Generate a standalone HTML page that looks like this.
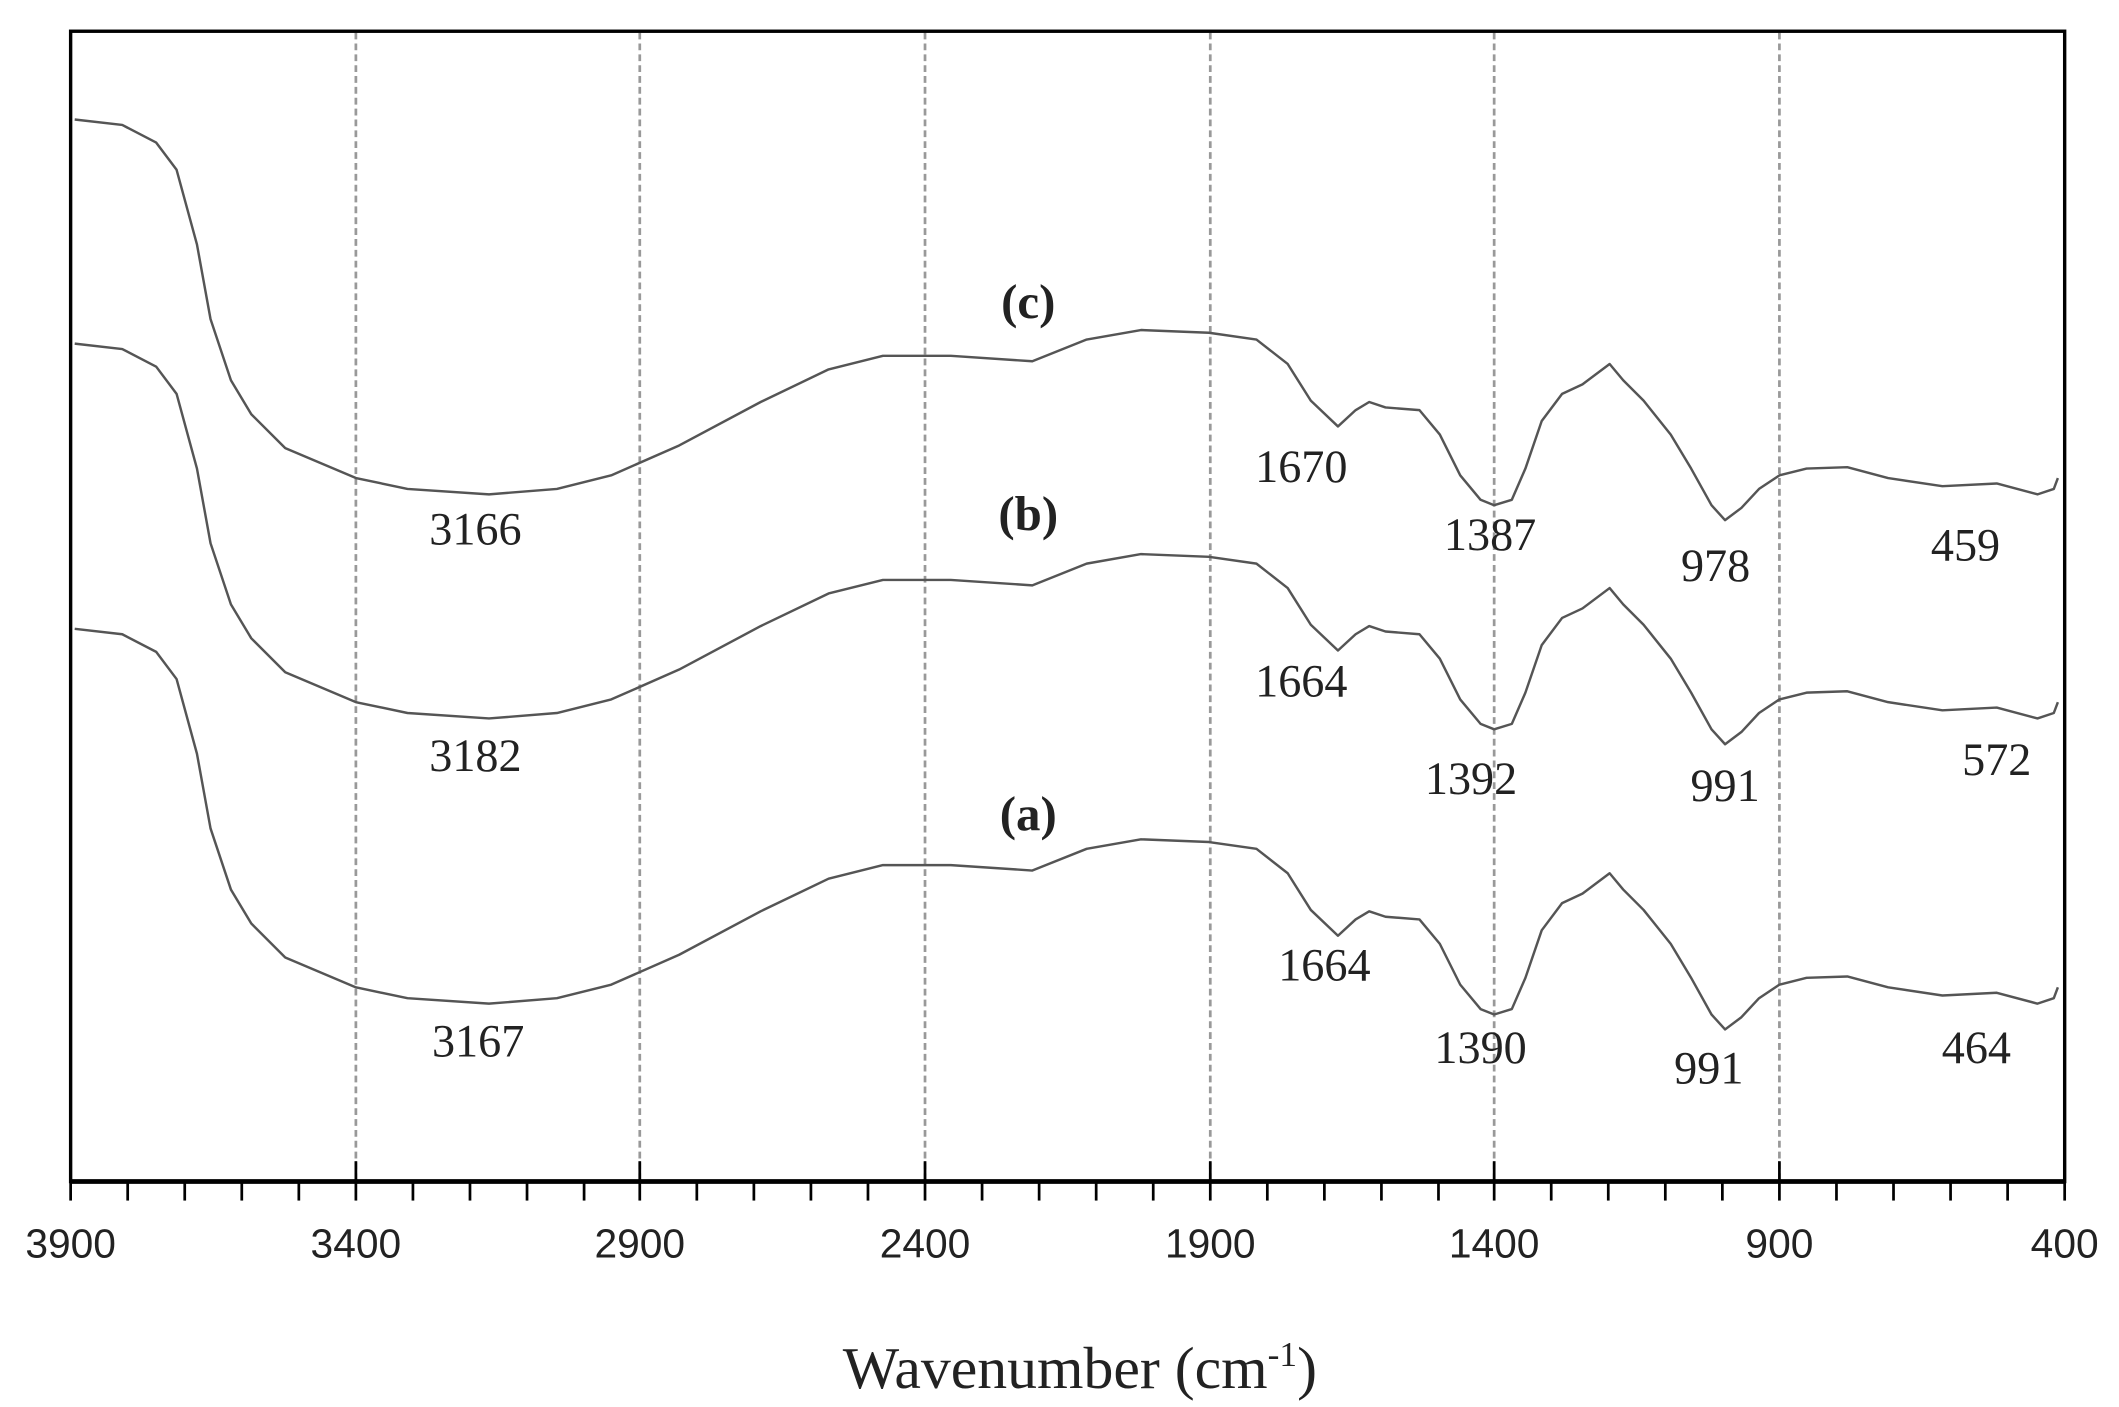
<!DOCTYPE html>
<html><head><style>html,body{margin:0;padding:0;background:#fff}svg{display:block}</style></head>
<body>
<svg xmlns="http://www.w3.org/2000/svg" width="2119" height="1407" viewBox="0 0 1560 1036" preserveAspectRatio="none">
<rect width="1560" height="1036" fill="#fff"/>
<g stroke="#999" stroke-width="2" stroke-dasharray="5,3">
<line x1="262" y1="24" x2="262" y2="870"/>
<line x1="471" y1="24" x2="471" y2="870"/>
<line x1="681" y1="24" x2="681" y2="870"/>
<line x1="891" y1="24" x2="891" y2="870"/>
<line x1="1100" y1="24" x2="1100" y2="870"/>
<line x1="1310" y1="24" x2="1310" y2="870"/>
</g>
<rect x="52" y="23" width="1468" height="847" fill="none" stroke="#000" stroke-width="2.5"/>
<line x1="52" y1="870" x2="1520" y2="870" stroke="#000" stroke-width="3.5"/>
<defs>
<path id="c" d="M55,88 L90,92 L115,105 L130,125 L145,180 L155,235 L170,280 L185,305 L210,330 L262,352 L300,360 L360,364 L410,360 L450,350 L500,328 L560,296 L610,272 L650,262 L700,262 L760,266 L800,250 L840,243 L890,245 L925,250 L948,268 L965,295 L985,314 L998,302 L1008,296 L1020,300 L1045,302 L1060,320 L1075,350 L1090,368 L1100,372 L1113,368 L1123,345 L1135,310 L1150,290 L1165,283 L1185,268 L1195,280 L1210,295 L1230,320 L1245,345 L1260,372 L1270,383 L1282,374 L1295,360 L1310,350 L1330,345 L1360,344 L1390,352 L1430,358 L1470,356 L1500,364 L1512,360 L1515,352"/>
</defs>
<g fill="none" stroke="#555" stroke-width="1.8" stroke-linejoin="round">
<use href="#c"/>
<use href="#c" transform="translate(0,165)"/>
<use href="#c" transform="translate(0,375)"/>
</g>
<g font-family="Liberation Serif, serif" font-size="34" fill="#222" text-anchor="middle" dominant-baseline="middle">
<text x="350" y="393">3166</text><text x="350" y="560">3182</text><text x="352" y="770">3167</text>
<text x="958" y="347">1670</text><text x="1097" y="397">1387</text><text x="1263" y="420">978</text><text x="1447" y="405">459</text>
<text x="958" y="505">1664</text><text x="1083" y="577">1392</text><text x="1270" y="582">991</text><text x="1470" y="563">572</text>
<text x="975" y="714">1664</text><text x="1090" y="775">1390</text><text x="1258" y="790">991</text><text x="1455" y="775">464</text>
<g font-weight="bold" font-size="36"><text x="757" y="226">(c)</text><text x="757" y="382">(b)</text><text x="757" y="603">(a)</text></g>
</g>
<g font-family="Liberation Sans, sans-serif" font-size="30" fill="#222" text-anchor="middle" dominant-baseline="middle">
<text x="52" y="918">3900</text><text x="262" y="918">3400</text><text x="471" y="918">2900</text><text x="681" y="918">2400</text><text x="891" y="918">1900</text><text x="1100" y="918">1400</text><text x="1310" y="918">900</text><text x="1520" y="918">400</text>
</g>
<text x="795" y="1022" font-family="Liberation Serif, serif" font-size="44" fill="#222" text-anchor="middle">Wavenumber (cm<tspan font-size="26" dy="-16">-1</tspan><tspan dy="16">)</tspan></text>
<g stroke="#000" stroke-width="2">
<line x1="94" y1="870" x2="94" y2="884"/><line x1="136" y1="870" x2="136" y2="884"/><line x1="178" y1="870" x2="178" y2="884"/><line x1="220" y1="870" x2="220" y2="884"/>
<line x1="304" y1="870" x2="304" y2="884"/><line x1="346" y1="870" x2="346" y2="884"/><line x1="388" y1="870" x2="388" y2="884"/><line x1="430" y1="870" x2="430" y2="884"/>
<line x1="513" y1="870" x2="513" y2="884"/><line x1="555" y1="870" x2="555" y2="884"/><line x1="597" y1="870" x2="597" y2="884"/><line x1="639" y1="870" x2="639" y2="884"/>
<line x1="723" y1="870" x2="723" y2="884"/><line x1="765" y1="870" x2="765" y2="884"/><line x1="807" y1="870" x2="807" y2="884"/><line x1="849" y1="870" x2="849" y2="884"/>
<line x1="933" y1="870" x2="933" y2="884"/><line x1="975" y1="870" x2="975" y2="884"/><line x1="1017" y1="870" x2="1017" y2="884"/><line x1="1059" y1="870" x2="1059" y2="884"/>
<line x1="1142" y1="870" x2="1142" y2="884"/><line x1="1184" y1="870" x2="1184" y2="884"/><line x1="1226" y1="870" x2="1226" y2="884"/><line x1="1268" y1="870" x2="1268" y2="884"/>
<line x1="1352" y1="870" x2="1352" y2="884"/><line x1="1394" y1="870" x2="1394" y2="884"/><line x1="1436" y1="870" x2="1436" y2="884"/><line x1="1478" y1="870" x2="1478" y2="884"/>
<line x1="52" y1="855" x2="52" y2="884"/><line x1="262" y1="855" x2="262" y2="884"/><line x1="471" y1="855" x2="471" y2="884"/><line x1="681" y1="855" x2="681" y2="884"/><line x1="891" y1="855" x2="891" y2="884"/><line x1="1100" y1="855" x2="1100" y2="884"/><line x1="1310" y1="855" x2="1310" y2="884"/><line x1="1520" y1="855" x2="1520" y2="884"/>
</g>
</svg>
</body></html>
